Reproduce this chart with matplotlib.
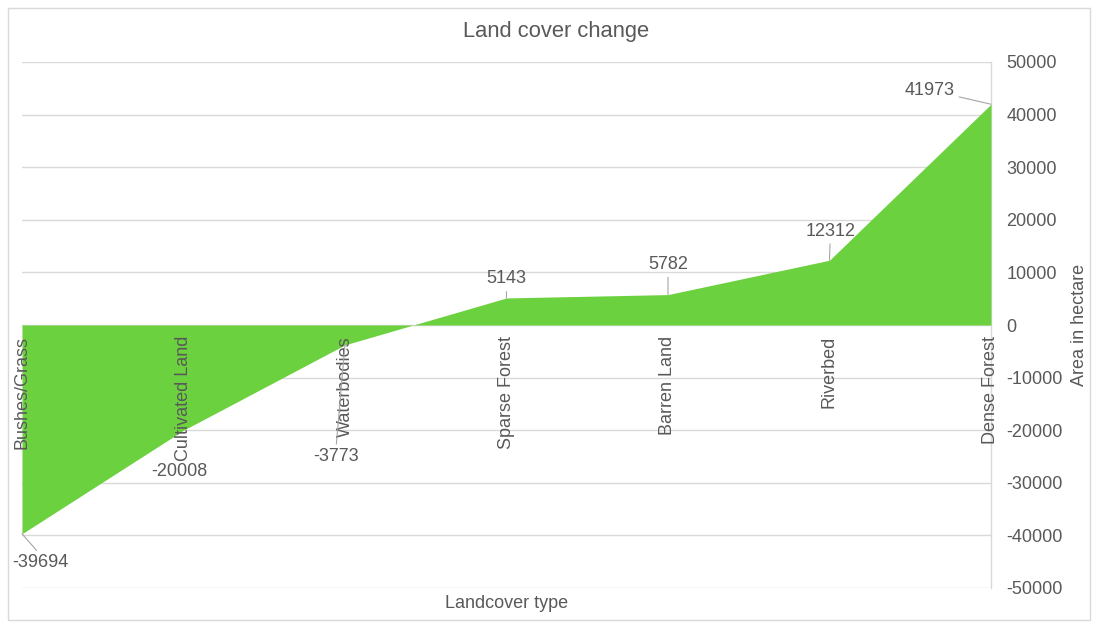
import matplotlib.pyplot as plt
from matplotlib.patches import Rectangle

plt.rcParams['font.family'] = ['Liberation Sans', 'DejaVu Sans']

categories = ['Bushes/Grass', 'Cultivated Land', 'Waterbodies', 'Sparse Forest',
              'Barren Land', 'Riverbed', 'Dense Forest']
values = [-39694, -20008, -3773, 5143, 5782, 12312, 41973]
yticks = list(range(-50000, 50001, 10000))

# label offsets in pixels (dx, dy) and whether a leader line is drawn
label_offsets = [(18, -29), (-4, -41), (-9, -112), (0, 19), (0, 30), (1, 29), (-61, 14)]
leader = [True, False, True, True, True, True, True]

text_col = '#595959'
grid_col = '#d9d9d9'
fill_col = '#6cd13f'

fig = plt.figure(figsize=(10.99, 6.25), dpi=100)
ax = fig.add_axes((0.02, 0.0592, 0.8817, 0.8416))

x = list(range(len(categories)))
ax.fill_between(x, values, 0, color=fill_col, lw=0, zorder=2)

ax.set_xlim(0, len(categories) - 1)
ax.set_ylim(-50000, 50000)
ax.set_yticks(yticks)
ax.set_yticklabels([str(v) for v in yticks])
ax.yaxis.tick_right()
ax.tick_params(axis='y', length=0, labelsize=13, labelcolor=text_col, pad=11)
ax.set_xticks([])
for y in yticks:
    ax.axhline(y, color=grid_col, lw=1, zorder=1)
ax.axvline(len(categories) - 1, color=grid_col, lw=1, zorder=1, clip_on=False)
for s in ax.spines.values():
    s.set_visible(False)

# category labels hanging below the zero line
for i, c in enumerate(categories):
    ax.annotate(c, (i, 0), xytext=(0, -11), textcoords='offset pixels',
                rotation=90, ha='center', va='top', fontsize=13, color=text_col, zorder=4)

for i, v in enumerate(values):
    dx, dy = label_offsets[i]
    ap = None
    if leader[i]:
        ap = dict(arrowstyle='-', color='#a6a6a6', lw=0.8, shrinkA=1, shrinkB=0)
        if v < 0:
            ap['relpos'] = (0.5, 1.0)
    ax.annotate(str(v), (i, v), xytext=(dx, dy), textcoords='offset pixels',
                ha='center', va='center', fontsize=13, color=text_col,
                arrowprops=ap, zorder=5, annotation_clip=False)

fig.text(0.506, 0.949, 'Land cover change', ha='center', va='center', fontsize=15.8, color=text_col)
fig.text(0.461, 0.034, 'Landcover type', ha='center', va='center', fontsize=13, color=text_col)
fig.text(0.982, 0.48, 'Area in hectare', ha='center', va='center', rotation=90,
         fontsize=13, color=text_col)

fig.patches.append(Rectangle((0.007, 0.008), 0.985, 0.98, transform=fig.transFigure,
                             fill=False, edgecolor='#d9d9d9', lw=1))

fig.savefig('out.png', dpi=100)
